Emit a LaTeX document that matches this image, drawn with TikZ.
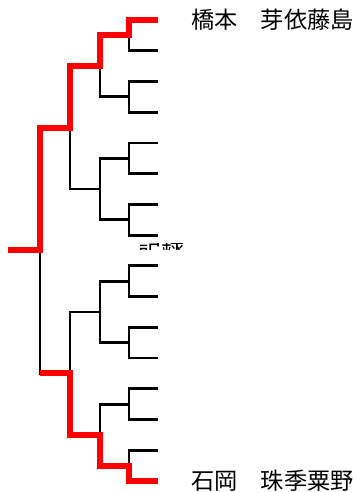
\documentclass[tikz,border=0pt]{standalone}
\usepackage{fontspec}
\newfontfamily\jpfont{Noto Sans CJK JP}
\begin{document}
\begin{tikzpicture}[x=1pt,y=-1pt,
  bline/.style={draw=black,line width=2.8pt,line join=miter},
  rline/.style={draw=red,line width=6pt,line join=miter},
  namelabel/.style={anchor=west,inner sep=0pt,font=\jpfont\fontsize{23.2}{23.2}\selectfont,text=black}]
\useasboundingbox (0,0) rectangle (356,492);
\def\sp{30.733}
% leaves
\foreach \i in {1,...,16} {
  \coordinate (l\i) at (158,{20+(\i-1)*\sp});
}
% round 1 junctions
\foreach \i in {1,...,8} {
  \coordinate (a\i) at (129,{20+(2*\i-1.5)*\sp});
}
\foreach \i in {1,...,4} {
  \coordinate (b\i) at (100,{20+(4*\i-2.5)*\sp});
}
\foreach \i in {1,2} {
  \coordinate (c\i) at (70,{20+(8*\i-4.5)*\sp});
}
\coordinate (d) at (40,{20+7.5*\sp});
\coordinate (root) at (8,{20+7.5*\sp});
% black bracket
\foreach \i in {1,...,8} {
  \pgfmathtruncatemacro\ja{2*\i-1}
  \pgfmathtruncatemacro\jb{2*\i}
  \draw[bline] (l\ja) -| (a\i) |- (l\jb);
}
\foreach \i in {1,...,4} {
  \pgfmathtruncatemacro\ja{2*\i-1}
  \pgfmathtruncatemacro\jb{2*\i}
  \draw[bline] (a\ja) -| (b\i) |- (a\jb);
}
\foreach \i in {1,2} {
  \pgfmathtruncatemacro\ja{2*\i-1}
  \pgfmathtruncatemacro\jb{2*\i}
  \draw[bline] (b\ja) -| (c\i) |- (b\jb);
}
\draw[bline] (c1) -| (d) |- (c2);
% red paths
\draw[rline] (l1) -| (a1) -| (b1) -| (c1) -| (d) -- (root);
\draw[rline] (l16) -| (a8) -| (b4) -| (c2) -- (c2 -| d);
% names
\node[namelabel] (topname) at (191,20) {橋本　芽依藤島};
\node[namelabel] (botname) at (191,481) {石岡　珠季粟野};
% partially hidden label
\begin{scope}
  \clip (136,243) rectangle (190,249.5);
  \node[inner sep=0pt,font=\jpfont\fontsize{23}{23}\selectfont] (midlabel) at (161,246) {記録};
\end{scope}
\end{tikzpicture}
\end{document}
